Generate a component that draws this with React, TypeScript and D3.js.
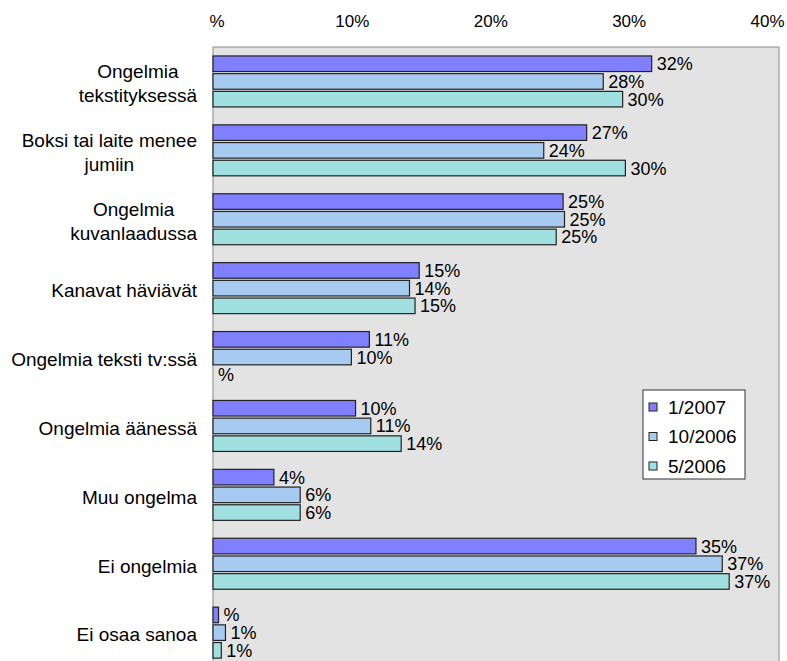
import React, { useRef, useEffect } from 'react';
import * as d3 from 'd3';

const categories = [
  'Ongelmia tekstityksessä',
  'Boksi tai laite menee jumiin',
  'Ongelmia kuvanlaadussa',
  'Kanavat häviävät',
  'Ongelmia teksti tv:ssä',
  'Ongelmia äänessä',
  'Muu ongelma',
  'Ei ongelmia',
  'Ei osaa sanoa',
];

// how each category label is wrapped
const categoryLines = [
  ['Ongelmia', 'tekstityksessä'],
  ['Boksi tai laite menee', 'jumiin'],
  ['Ongelmia', 'kuvanlaadussa'],
  ['Kanavat häviävät'],
  ['Ongelmia teksti tv:ssä'],
  ['Ongelmia äänessä'],
  ['Muu ongelma'],
  ['Ei ongelmia'],
  ['Ei osaa sanoa'],
];

const seriesNames = ['1/2007', '10/2006', '5/2006'];
const seriesColors = ['#8080FF', '#A6CAF0', '#A0E0E0'];

const values2007_01 = [0.317, 0.27, 0.253, 0.149, 0.113, 0.103, 0.044, 0.349, 0.004];
const values2006_10 = [0.282, 0.239, 0.254, 0.142, 0.1, 0.114, 0.063, 0.368, 0.009];
const values2006_05 = [0.296, 0.298, 0.248, 0.146, 0, 0.136, 0.063, 0.373, 0.006];

const xTicks = [0, 0.1, 0.2, 0.3, 0.4];

// Excel "#%" style: zero shows as a bare "%"
const pct = (v: number) => {
  const r = Math.round(v * 100);
  return r === 0 ? '%' : `${r}%`;
};

const W = 787;
const H = 661;
const FONT = '"Liberation Sans", Arial, sans-serif';

const App: React.FC = () => {
  const svgRef = useRef<SVGSVGElement>(null);

  useEffect(() => {
    if (!svgRef.current) return;
    const svg = d3.select(svgRef.current);
    svg.selectAll('*').remove();

    const plot = { left: 213, right: 779, top: 47 };
    const step = 68.9;

    const x = d3.scaleLinear().domain([0, 0.409]).range([plot.left, plot.right]);
    const y = d3
      .scaleBand()
      .domain(categories)
      .range([plot.top, plot.top + step * categories.length])
      .paddingInner(0.26)
      .paddingOuter(0.13);
    const ySeries = d3
      .scaleBand()
      .domain(seriesNames)
      .range([0, y.bandwidth()])
      .paddingInner(0.12);

    const data = categories.map((c, i) => ({
      category: c,
      values: [values2007_01[i], values2006_10[i], values2006_05[i]],
    }));

    // plot area
    svg
      .append('rect')
      .attr('x', plot.left)
      .attr('y', plot.top)
      .attr('width', plot.right - plot.left)
      .attr('height', H - plot.top + 10)
      .attr('fill', '#E3E3E3')
      .attr('stroke', '#9a9a9a')
      .attr('stroke-width', 1.2);

    // top axis labels
    svg
      .append('g')
      .selectAll('text')
      .data(xTicks)
      .enter()
      .append('text')
      .attr('x', (d) => x(d) + (d === 0 ? 4 : 1))
      .attr('y', 27)
      .attr('text-anchor', 'middle')
      .attr('font-family', FONT)
      .attr('font-size', 17)
      .attr('fill', '#000')
      .text((d) => pct(d));

    // bars
    const groups = svg
      .append('g')
      .selectAll('g')
      .data(data)
      .enter()
      .append('g')
      .attr('transform', (d) => `translate(0,${y(d.category)})`);

    groups
      .selectAll('rect')
      .data((d) => d.values.map((v, i) => ({ v, s: seriesNames[i], i })))
      .enter()
      .append('rect')
      .attr('x', x(0))
      .attr('y', (d) => ySeries(d.s)!)
      .attr('width', (d) => x(d.v) - x(0))
      .attr('height', ySeries.bandwidth())
      .attr('fill', (d) => seriesColors[d.i])
      .attr('stroke', (d) => (d.v > 0 ? '#222' : 'none'))
      .attr('stroke-width', 1.2);

    groups
      .selectAll('text')
      .data((d) => d.values.map((v, i) => ({ v, s: seriesNames[i] })))
      .enter()
      .append('text')
      .attr('x', (d) => x(d.v) + 5)
      .attr('y', (d) => ySeries(d.s)! + ySeries.bandwidth() / 2)
      .attr('dy', '0.36em')
      .attr('font-family', FONT)
      .attr('font-size', 18)
      .attr('fill', '#000')
      .text((d) => pct(d.v));

    // category labels, wrapped lines centred as a block ending at x=197
    const labelRight = 197;
    const lineH = 24;
    data.forEach((d, i) => {
      const lines = categoryLines[i];
      const cy = y(d.category)! + y.bandwidth() / 2 + 2;
      const g = svg.append('g');
      const texts = lines.map((line, k) =>
        g
          .append('text')
          .attr('y', cy + (k - (lines.length - 1) / 2) * lineH)
          .attr('dy', '0.36em')
          .attr('text-anchor', 'middle')
          .attr('font-family', FONT)
          .attr('font-size', 19)
          .attr('fill', '#000')
          .text(line)
      );
      const widest = d3.max(texts, (t) => (t.node() as SVGTextElement).getComputedTextLength()) || 0;
      texts.forEach((t) => t.attr('x', labelRight - widest / 2));
    });

    // legend
    const legend = svg.append('g').attr('transform', 'translate(643,390)');
    legend
      .append('rect')
      .attr('width', 102)
      .attr('height', 89)
      .attr('fill', '#fff')
      .attr('stroke', '#333')
      .attr('stroke-width', 1);
    const item = legend
      .selectAll('g.item')
      .data(seriesNames)
      .enter()
      .append('g')
      .attr('class', 'item')
      .attr('transform', (d, i) => `translate(0,${17 + i * 29.5})`);
    item
      .append('rect')
      .attr('x', 6)
      .attr('y', -4)
      .attr('width', 8)
      .attr('height', 8)
      .attr('fill', (d, i) => seriesColors[i])
      .attr('stroke', '#222')
      .attr('stroke-width', 1);
    item
      .append('text')
      .attr('x', 25)
      .attr('dy', '0.36em')
      .attr('font-family', FONT)
      .attr('font-size', 19)
      .attr('fill', '#000')
      .text((d) => d);
  }, []);

  return (
    <svg
      ref={svgRef}
      width={W}
      height={H}
      style={{ position: 'absolute', left: 0, top: 0, display: 'block', background: '#fff' }}
    />
  );
};

export default App;
